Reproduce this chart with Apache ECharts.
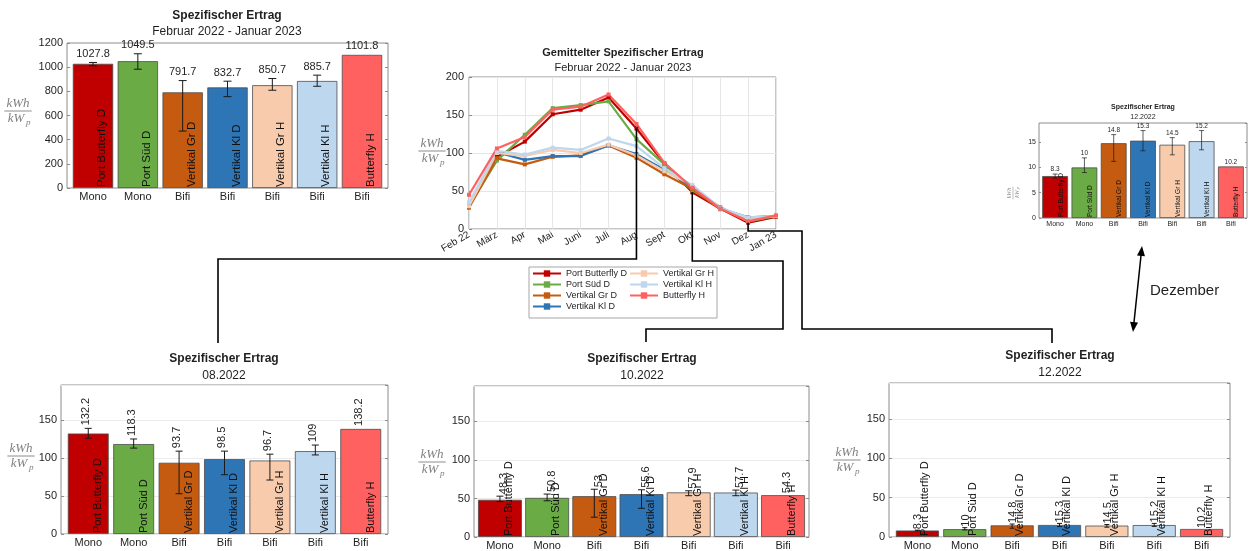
<!DOCTYPE html>
<html><head><meta charset="utf-8">
<script src="https://cdn.jsdelivr.net/npm/echarts@6/dist/echarts.min.js"></script>
<style>html,body{margin:0;padding:0;background:#fff}#c{width:1253px;height:551px}</style>
</head><body><div id="c"></div>
<script>
// ---------------- DATA ----------------
const months = ['Feb 22','März','Apr','Mai','Juni','Juli','Aug','Sept','Okt','Nov','Dez','Jan 23'];
const names = ['Port Butterfly D','Port Süd D','Vertikal Gr D','Vertikal Kl D','Vertikal Gr H','Vertikal Kl H','Butterfly H'];
const types = ['Mono','Mono','Bifi','Bifi','Bifi','Bifi','Bifi'];
const colors = ['#C00000','#6AAB46','#C55A11','#2E75B6','#F8CBAD','#BDD7EE','#FF6161'];

// monthly averaged specific yield (line chart)
const pbdMonthly = [30, 95, 115, 151, 157, 173, 132.2, 86, 48.3, 27, 8.3, 16];
const psdMonthly = [30, 90, 124, 159, 163, 168, 118.3, 85, 50.8, 29, 10, 17];
const vgdMonthly = [28, 93, 85, 95, 97, 110, 93.7, 72, 53, 26, 14.8, 17];
const vkdMonthly = [32, 101, 91, 96, 96, 110, 98.5, 78, 55.6, 27, 15.3, 17];
const vghMonthly = [30, 100, 96, 104, 100, 111, 96.7, 76, 57.9, 27, 14.5, 17];
const vkhMonthly = [35, 103, 98, 107, 104, 119, 109, 80, 57.7, 28, 15.2, 17];
const bhMonthly  = [45, 106, 121, 157, 161, 177, 138.2, 87, 54.3, 27, 10.2, 18];

// annual Feb 2022 - Jan 2023
const annual        = [1027.8, 1049.5, 791.7, 832.7, 850.7, 885.7, 1101.8];
const annualErrLow  = [1011, 983, 471, 756, 809, 842, null];
const annualErrHigh = [1039, 1111, 889, 884, 906, 934, null];

// 08.2022
const aug        = [132.2, 118.3, 93.7, 98.5, 96.7, 109, 138.2];
const augErrLow  = [126, 113, 53, 78, 71, 104, null];
const augErrHigh = [139, 125, 109, 109, 105, 117, null];

// 10.2022
const okt        = [48.3, 50.8, 53, 55.6, 57.9, 57.7, 54.3];
const oktErrLow  = [46, 47, 25.7, 37.3, 53.6, 53.6, null];
const oktErrHigh = [53, 55.7, 62, 61.3, 60, 60.9, null];

// 12.2022
const dez        = [8.3, 10, 14.8, 15.3, 14.5, 15.2, 10.2];
const dezErrLow  = [7.9, 9.0, 11.2, 13.3, 12.5, 13.5, null];
const dezErrHigh = [8.7, 11.9, 16.5, 17.3, 15.9, 17.3, null];

const barPositions = [1, 2, 3, 4, 5, 6, 7];
const yTicksBar = 50;

// ---------------- BUILD ----------------
const FONT = '"Liberation Sans", Arial, Helvetica, sans-serif';
const TXT = '#1f1f1f';
const grids = [], xAxes = [], yAxes = [], series = [], titles = [], graphics = [];

function addTitle(cx, y1, y2, main, sub, fs) {
  titles.push({text: main, left: cx, top: y1 - fs / 2 - 1, textAlign: 'center', padding: 0,
    textStyle: {fontFamily: FONT, fontSize: fs, fontWeight: 'bold', color: TXT}});
  titles.push({text: sub, left: cx, top: y2 - fs / 2 - 1, textAlign: 'center', padding: 0,
    textStyle: {fontFamily: FONT, fontSize: fs, fontWeight: 'normal', color: TXT}});
}

function frac(cx, cy, fs, rot) {
  const f = 'italic ' + fs + 'px "Liberation Serif","DejaVu Serif",serif';
  const fsub = 'italic ' + (fs * 0.7) + 'px "Liberation Serif","DejaVu Serif",serif';
  const w = fs * 2.1;
  return {type: 'group', x: cx, y: cy, rotation: rot ? Math.PI / 2 : 0, silent: true, children: [
    {type: 'text', style: {text: 'kWh', x: 0, y: -1, align: 'center', verticalAlign: 'bottom', font: f, fill: '#808080'}},
    {type: 'line', shape: {x1: -w / 2, y1: 0, x2: w / 2, y2: 0}, style: {stroke: '#808080', lineWidth: rot ? 0.5 : 0.9}},
    {type: 'text', style: {text: 'kW', x: -fs * 0.15, y: 1, align: 'center', verticalAlign: 'top', font: f, fill: '#808080'}},
    {type: 'text', style: {text: 'p', x: fs * 0.62, y: fs * 0.55, align: 'left', verticalAlign: 'top', font: fsub, fill: '#808080'}}
  ]};
}

function makeRender(cfg) {
  return function (params, api) {
    const xv = api.value(0), v = api.value(1), lo = api.value(2), hi = api.value(3);
    const idx = barPositions.indexOf(xv);
    const band = api.size([1, 0])[0];
    const barW = band * (1 - parseFloat(cfg.gap) / 100);
    const c = api.coord([xv, v]);
    const cx = c[0];
    const children = [];
    if (hi > lo) {
      const pLo = api.coord([xv, lo]), pHi = api.coord([xv, hi]);
      const cw = cfg.capW / 2;
      const st = {stroke: '#1a1a1a', lineWidth: cfg.errW};
      children.push({type: 'line', shape: {x1: cx, y1: pLo[1], x2: cx, y2: pHi[1]}, style: st});
      children.push({type: 'line', shape: {x1: cx - cw, y1: pLo[1], x2: cx + cw, y2: pLo[1]}, style: st});
      children.push({type: 'line', shape: {x1: cx - cw, y1: pHi[1], x2: cx + cw, y2: pHi[1]}, style: st});
    }
    const topY = api.coord([xv, Math.max(v, hi)])[1];
    const vtxt = String(v);
    if (cfg.valRot) {
      children.push({type: 'text', x: cx + (cfg.valFrac - 0.5) * barW, y: topY - cfg.valGap, rotation: Math.PI / 2,
        style: {text: vtxt, x: 0, y: 0, align: 'left', verticalAlign: 'middle', fontSize: cfg.valFont, fontFamily: FONT, fill: TXT}});
    } else {
      children.push({type: 'text', x: cx, y: topY - cfg.valGap,
        style: {text: vtxt, x: 0, y: 0, align: 'center', verticalAlign: 'bottom', fontSize: cfg.valFont, fontFamily: FONT, fill: TXT}});
    }
    const base = api.coord([xv, 0])[1];
    children.push({type: 'text', x: cx + (cfg.nameFrac - 0.5) * barW, y: base - 1, rotation: Math.PI / 2,
      style: {text: names[idx], x: 0, y: 0, align: 'left', verticalAlign: 'middle', fontSize: cfg.nameFont, fontFamily: FONT, fill: '#111'}});
    return {type: 'group', children: children};
  };
}

function addBarChart(cfg) {
  const gi = grids.length;
  grids.push(Object.assign({show: true, borderColor: '#8c8c8c', borderWidth: 1, backgroundColor: '#fff'}, cfg.layout));
  xAxes.push({type: 'value', gridIndex: gi, min: cfg.xMin, max: cfg.xMax, axisLine: {show: false}, axisTick: {show: false},
    axisLabel: {customValues: barPositions, formatter: v => types[barPositions.indexOf(v)] || '', fontFamily: FONT,
      fontSize: cfg.tickFont, color: TXT, margin: cfg.xMargin, showMinLabel: true, showMaxLabel: true},
    splitLine: {show: false}});
  const yLab = {fontFamily: FONT, fontSize: cfg.tickFont, color: TXT, margin: cfg.yMargin,
    showMaxLabel: cfg.max % cfg.interval === 0, formatter: v => String(v)};
  yAxes.push({type: 'value', gridIndex: gi, min: 0, max: cfg.max, interval: cfg.interval,
    axisLine: {show: false}, axisTick: {show: true, inside: true, length: cfg.tickLen, lineStyle: {color: '#8c8c8c'}},
    axisLabel: yLab, splitLine: {show: cfg.split, lineStyle: {color: '#ebebeb', width: 1}}});
  yAxes.push({type: 'value', gridIndex: gi, position: 'right', min: 0, max: cfg.max, interval: cfg.interval,
    axisLine: {show: false}, axisTick: {show: true, inside: true, length: cfg.tickLen, lineStyle: {color: '#8c8c8c'}},
    axisLabel: {show: false}, splitLine: {show: false}});
  const yi = yAxes.length - 2;
  series.push({type: 'bar', xAxisIndex: gi, yAxisIndex: yi, barCategoryGap: cfg.gap, silent: true,
    data: cfg.vals.map((v, i) => ({value: [barPositions[i], v], itemStyle: {color: colors[i]}})),
    itemStyle: {borderColor: '#4d4d4d', borderWidth: 0.8}});
  series.push({type: 'custom', xAxisIndex: gi, yAxisIndex: yi, silent: true, z: 5,
    data: cfg.vals.map((v, i) => [barPositions[i], v, cfg.lo[i] == null ? v : cfg.lo[i], cfg.hi[i] == null ? v : cfg.hi[i]]),
    renderItem: makeRender(cfg)});
}

// top-left: annual
addBarChart({layout: {left: 67, top: 43, width: 321, height: 145}, vals: annual, lo: annualErrLow, hi: annualErrHigh,
  xMin: 0.42, xMax: 7.58, max: 1200, interval: 200, gap: '10%', tickFont: 11, xMargin: 3, yMargin: 4, tickLen: 3, split: false,
  valRot: false, valGap: 3, valFont: 11, nameFrac: 0.72, nameFont: 11.5, capW: 8, errW: 1});
addTitle(227, 17, 33, 'Spezifischer Ertrag', 'Februar 2022 - Januar 2023', 12);
graphics.push(frac(18, 111, 13, false));

// line chart
const lineGrid = grids.length;
grids.push({left: 469, top: 77, width: 307, height: 152, show: true, borderColor: '#8c8c8c', borderWidth: 1, backgroundColor: '#fff'});
xAxes.push({type: 'category', gridIndex: lineGrid, data: months, boundaryGap: false, axisLine: {show: false}, axisTick: {show: false},
  axisLabel: {interval: 0, rotate: 30, fontFamily: FONT, fontSize: 10, color: TXT, margin: 5},
  splitLine: {show: true, lineStyle: {color: '#e6e6e6'}}});
yAxes.push({type: 'value', gridIndex: lineGrid, min: 0, max: 200, interval: 50, axisLine: {show: false},
  axisTick: {show: true, inside: true, length: 3, lineStyle: {color: '#8c8c8c'}},
  axisLabel: {fontFamily: FONT, fontSize: 11, color: TXT, margin: 5}, splitLine: {show: true, lineStyle: {color: '#e6e6e6'}}});
const lineY = yAxes.length - 1;
const monthly = [pbdMonthly, psdMonthly, vgdMonthly, vkdMonthly, vghMonthly, vkhMonthly, bhMonthly];
monthly.forEach((arr, i) => series.push({type: 'line', name: names[i], xAxisIndex: lineGrid, yAxisIndex: lineY, data: arr,
  color: colors[i], lineStyle: {width: 2.2, color: colors[i]}, itemStyle: {color: colors[i]}, symbol: 'rect', symbolSize: 4, silent: true}));
addTitle(623, 54, 69, 'Gemittelter Spezifischer Ertrag', 'Februar 2022 - Januar 2023', 11);
graphics.push(frac(432, 151, 13, false));

// top-right: 12.2022 small
addBarChart({layout: {left: 1039, top: 123, width: 208, height: 95}, vals: dez, lo: dezErrLow, hi: dezErrHigh,
  xMin: 0.45, xMax: 7.55, max: 18.8, interval: 5, gap: '12%', tickFont: 7, xMargin: 3, yMargin: 3, tickLen: 2, split: false,
  valRot: false, valGap: 1, valFont: 6.5, nameFrac: 0.72, nameFont: 6.5, capW: 5, errW: 0.7});
addTitle(1143, 108, 118, 'Spezifischer Ertrag', '12.2022', 7);
graphics.push(frac(1013, 193, 6, true));

// bottom-left: 08.2022
addBarChart({layout: {left: 61, top: 385, width: 327, height: 149}, vals: aug, lo: augErrLow, hi: augErrHigh,
  xMin: 0.4, xMax: 7.6, max: 196, interval: yTicksBar, gap: '10%', tickFont: 11, xMargin: 3, yMargin: 4, tickLen: 3, split: true,
  valRot: true, valGap: 3, valFont: 11, valFrac: 0.45, nameFrac: 0.74, nameFont: 11, capW: 7, errW: 1});
addTitle(224, 360, 377, 'Spezifischer Ertrag', '08.2022', 12);
graphics.push(frac(21, 456, 13, false));

// bottom-middle: 10.2022
addBarChart({layout: {left: 474, top: 386, width: 335, height: 152}, vals: okt, lo: oktErrLow, hi: oktErrHigh,
  xMin: 0.45, xMax: 7.55, max: 196, interval: yTicksBar, gap: '7%', tickFont: 11, xMargin: 3, yMargin: 4, tickLen: 3, split: true,
  valRot: true, valGap: 2, valFont: 11, valFrac: 0.6, nameFrac: 0.71, nameFont: 11, capW: 7, errW: 1});
addTitle(642, 360, 377, 'Spezifischer Ertrag', '10.2022', 12);
graphics.push(frac(432, 462, 13, false));

// bottom-right: 12.2022
addBarChart({layout: {left: 889, top: 383, width: 341, height: 155}, vals: dez, lo: dezErrLow, hi: dezErrHigh,
  xMin: 0.4, xMax: 7.6, max: 196, interval: yTicksBar, gap: '9%', tickFont: 11, xMargin: 3, yMargin: 4, tickLen: 3, split: true,
  valRot: true, valGap: 1, valFont: 11, valFrac: 0.52, nameFrac: 0.68, nameFont: 11, capW: 5, errW: 1});
addTitle(1060, 357, 374, 'Spezifischer Ertrag', '12.2022', 12);
graphics.push(frac(847, 460, 13, false));

// legend border
graphics.push({type: 'rect', shape: {x: 529, y: 267, width: 188, height: 51}, style: {fill: 'none', stroke: '#a6a6a6', lineWidth: 1}, silent: true, z: 1});
// Dezember text
graphics.push({type: 'text', x: 1150, y: 291, style: {text: 'Dezember', fontFamily: FONT, fontSize: 15, fill: TXT, align: 'left', verticalAlign: 'middle'}, silent: true});

const legendBase = {orient: 'vertical', itemWidth: 28, itemHeight: 8, itemGap: 2, padding: 0, selectedMode: false,
  textStyle: {fontFamily: FONT, fontSize: 9, color: TXT}};

const option = {
  animation: false,
  backgroundColor: '#fff',
  title: titles,
  legend: [
    Object.assign({}, legendBase, {data: names.slice(0, 4), left: 532, top: 269}),
    Object.assign({}, legendBase, {data: names.slice(4), left: 629, top: 269})
  ],
  grid: grids, xAxis: xAxes, yAxis: yAxes, series: series,
  graphic: {elements: graphics}
};

const chart = echarts.init(document.getElementById('c'), null, {renderer: 'canvas', width: 1253, height: 551});
chart.setOption(option);

// connectors anchored at data points of the line chart
function pt(idx, val) { return chart.convertToPixel({gridIndex: lineGrid}, [idx, val]); }
const pAug = pt(months.indexOf('Aug'), pbdMonthly[months.indexOf('Aug')]);
const pOkt = pt(months.indexOf('Okt'), pbdMonthly[months.indexOf('Okt')]);
const pDez = pt(months.indexOf('Dez'), pbdMonthly[months.indexOf('Dez')]);
const conStyle = {stroke: '#000', lineWidth: 1.6, fill: 'none'};
const extra = [
  {type: 'polyline', shape: {points: [[pAug[0], pAug[1]], [pAug[0], 259], [218, 259], [218, 343]]}, style: conStyle, silent: true, z: 50},
  {type: 'polyline', shape: {points: [[pOkt[0], pOkt[1]], [pOkt[0], 261], [783, 261], [783, 329], [646, 329], [646, 342]]}, style: conStyle, silent: true, z: 50},
  {type: 'polyline', shape: {points: [[pDez[0], pDez[1]], [pDez[0], 231], [802, 231], [802, 329], [1052, 329], [1052, 343]]}, style: conStyle, silent: true, z: 50}
];
// double arrow
const a1 = [1142, 246], a2 = [1133, 332];
const dx = a2[0] - a1[0], dy = a2[1] - a1[1], len = Math.hypot(dx, dy);
const ux = dx / len, uy = dy / len, nx = -uy, ny = ux, hl = 10, hw = 4;
function head(tip, sx, sy) {
  return [[tip[0], tip[1]], [tip[0] - sx * hl + nx * hw, tip[1] - sy * hl + ny * hw], [tip[0] - sx * hl - nx * hw, tip[1] - sy * hl - ny * hw]];
}
extra.push({type: 'line', shape: {x1: a1[0] + ux * 6, y1: a1[1] + uy * 6, x2: a2[0] - ux * 6, y2: a2[1] - uy * 6}, style: {stroke: '#000', lineWidth: 1.5}, silent: true, z: 50});
extra.push({type: 'polygon', shape: {points: head(a1, -ux, -uy)}, style: {fill: '#000'}, silent: true, z: 50});
extra.push({type: 'polygon', shape: {points: head(a2, ux, uy)}, style: {fill: '#000'}, silent: true, z: 50});

chart.setOption({graphic: {elements: graphics.concat(extra)}});
</script>
</body></html>
